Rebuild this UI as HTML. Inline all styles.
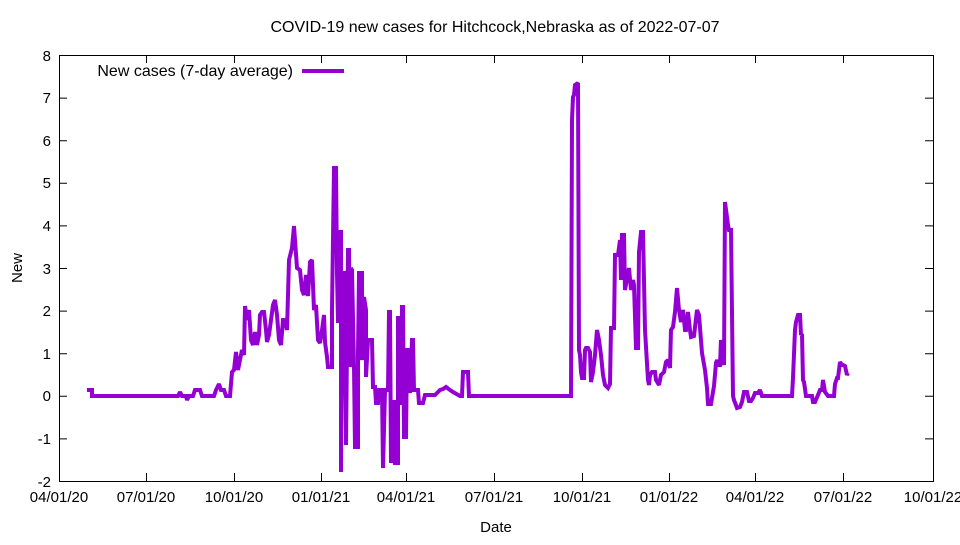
<!DOCTYPE html>
<html><head><meta charset="utf-8"><style>
body{margin:0;background:#fff}
text{font-family:"Liberation Sans",sans-serif;font-size:15px;fill:#000}
.big{font-size:16px}
</style></head><body>
<svg width="960" height="540" xmlns="http://www.w3.org/2000/svg">
<text class="big" x="495" y="32" text-anchor="middle">COVID-19 new cases for Hitchcock,Nebraska as of 2022-07-07</text>
<rect x="59.5" y="55.5" width="874" height="426" fill="none" stroke="#000" stroke-width="1"/>
<g stroke="#000" stroke-width="1">
<path d="M59 98.1h8M933 98.1h-8M59 140.7h8M933 140.7h-8M59 183.3h8M933 183.3h-8M59 225.9h8M933 225.9h-8M59 268.5h8M933 268.5h-8M59 311.1h8M933 311.1h-8M59 353.7h8M933 353.7h-8M59 396.3h8M933 396.3h-8M59 438.9h8M933 438.9h-8"/>
<path d="M146.5 481v-8M146.5 55v8M234.5 481v-8M234.5 55v8M321.5 481v-8M321.5 55v8M406.5 481v-8M406.5 55v8M494.5 481v-8M494.5 55v8M582.5 481v-8M582.5 55v8M669.5 481v-8M669.5 55v8M755.5 481v-8M755.5 55v8M843.5 481v-8M843.5 55v8"/>
</g>
<g text-anchor="end">
<text x="51" y="61">8</text><text x="51" y="103">7</text><text x="51" y="146">6</text><text x="51" y="188">5</text><text x="51" y="231">4</text><text x="51" y="274">3</text><text x="51" y="316">2</text><text x="51" y="359">1</text><text x="51" y="401">0</text><text x="51" y="444">-1</text><text x="51" y="487">-2</text>
</g>
<g text-anchor="middle">
<text x="59" y="502">04/01/20</text><text x="146" y="502">07/01/20</text><text x="234" y="502">10/01/20</text><text x="321" y="502">01/01/21</text><text x="406" y="502">04/01/21</text><text x="494" y="502">07/01/21</text><text x="582" y="502">10/01/21</text><text x="669" y="502">01/01/22</text><text x="755" y="502">04/01/22</text><text x="843" y="502">07/01/22</text><text x="933" y="502">10/01/22</text>
<text x="496" y="532">Date</text>
</g>
<text x="22" y="268" text-anchor="middle" transform="rotate(-90 22 268)">New</text>
<text class="big" x="293" y="76" text-anchor="end">New cases (7-day average)</text>
<path d="M302 71h42" stroke="#9400d3" stroke-width="4"/>
<polyline fill="none" stroke="#9400d3" stroke-width="4" stroke-linejoin="miter" stroke-miterlimit="2" points="87,390 92,390 92,396 178,396 180,392 182,396 186,396 187,400 189,396 193,396 195,390 200,390 202,396 214,396 216,390 219,384 221,390 224,390 226,396 230,396 232,372 234,370 236,352 238,370 240,360 242,350 244,355 245,306 247,320 249,310 251,340 253,345 255,332 257,345 259,335 260,315 262,312 264,312 266,330 267,342 269,335 271,320 273,305 275,300 277,315 279,340 281,345 283,320 285,320 287,330 289,260 292,248 294,226 297,268 300,270 302,290 304,295 306,275 308,296 310,262 312,260 314,310 316,305 318,340 320,343 322,330 324,315 325,342 327,357 328,367 332,367 332,310 334,168 336,168 337,273 338,323 339,232 341,232 341,472 342,273 344,273 345,360 346,445 348,250 349,250 350,367 351,268 352,270 354,367 355,447 358,447 358,353 359,273 362,273 362,360 364,297 366,310 366,377 368,340 372,340 373,387 375,387 376,403 378,403 379,390 382,390 383,468 385,390 388,390 389,312 390,312 391,463 394,400 395,463 398,463 398,318 400,318 401,405 402,307 403,307 404,437 406,437 407,350 409,350 410,393 412,340 413,340 414,390 418,390 419,403 423,403 425,395 435,395 440,390 443,389 446,387 450,390 453,392 460,396 462,396 463,372 468,372 469,396 571,396 572,120 573,97 574,95 575,85 578,83 579,350 580,355 581,372 582,378 584,378 585,350 586,348 588,348 590,352 591,382 593,372 595,355 597,330 599,340 601,355 603,375 605,385 608,388 610,384 611,328 614,328 615,255 618,255 620,240 621,280 622,235 624,235 625,290 627,278 629,268 631,290 633,280 634,285 636,348 638,348 639,252 641,232 643,232 645,330 648,380 649,385 650,375 652,372 655,372 656,380 659,385 661,375 664,372 666,362 668,360 670,368 671,330 673,327 675,312 677,288 679,310 681,322 683,310 685,330 686,330 688,312 690,330 691,337 694,336 697,310 699,315 702,353 705,370 707,388 708,404 711,404 714,386 716,363 717,360 719,365 720,365 721,340 723,360 724,365 725,202 728,225 729,230 731,230 733,396 734,400 737,408 740,407 742,402 744,392 747,392 749,401 751,401 753,398 755,393 758,393 760,390 762,396 792,396 793,378 795,330 796,322 798,315 800,315 801,335 802,334 803,380 804,382 806,396 812,396 813,402 815,402 818,395 820,390 822,390 823,380 825,392 828,396 834,396 835,384 837,378 838,378 840,362 842,365 843,365 845,366 847,375 848,373"/>
</svg>
</body></html>
